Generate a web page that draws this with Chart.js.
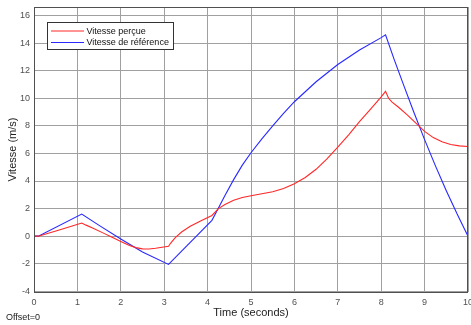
<!DOCTYPE html>
<html>
<head>
<meta charset="utf-8">
<script src="https://cdn.jsdelivr.net/npm/chart.js@4/dist/chart.umd.min.js"></script>
<style>
html,body{margin:0;padding:0;background:#fff;}
canvas{display:block;}
</style>
</head>
<body>
<canvas id="c" width="471" height="325"></canvas>
<script>
// ---- Data ----
const seriesLabels = ["Vitesse perçue", "Vitesse de référence"];
const timePercue = [0, 0.1, 0.6, 1.1, 1.2, 1.35, 1.6, 1.8, 2.0, 2.2, 2.35, 2.5, 2.65, 2.8, 2.95, 3.1, 3.15, 3.25, 3.4, 3.6, 3.85, 4.1, 4.25, 4.4, 4.6, 4.8, 5.0, 5.25, 5.5, 5.75, 6.0, 6.25, 6.5, 6.75, 7.0, 7.25, 7.5, 7.75, 8.0, 8.1, 8.17, 8.25, 8.4, 8.6, 8.8, 9.0, 9.2, 9.4, 9.6, 9.8, 10.0];
const vitessePercue = [0, 0, 0.47, 0.95, 0.8, 0.6, 0.22, -0.08, -0.38, -0.68, -0.83, -0.92, -0.93, -0.88, -0.8, -0.73, -0.5, -0.12, 0.3, 0.72, 1.12, 1.5, 2.0, 2.3, 2.6, 2.8, 2.93, 3.07, 3.22, 3.45, 3.8, 4.25, 4.85, 5.6, 6.45, 7.35, 8.3, 9.2, 10.1, 10.5, 10.0, 9.72, 9.35, 8.8, 8.2, 7.6, 7.15, 6.85, 6.65, 6.55, 6.5];
const timeReference = [0, 0.1, 1.1, 1.5, 2.0, 2.5, 3.1, 4.1, 4.25, 4.4, 4.6, 4.8, 5.0, 5.25, 5.5, 5.75, 6.0, 6.5, 7.0, 7.5, 8.0, 8.1, 8.3, 8.5, 8.75, 9.0, 9.25, 9.5, 9.75, 10.0];
const vitesseReference = [0, 0, 1.6, 0.78, -0.2, -1.15, -2.05, 1.15, 2.05, 2.95, 4.1, 5.15, 6.05, 7.05, 8.0, 8.9, 9.75, 11.2, 12.45, 13.5, 14.4, 14.6, 12.8, 11.1, 9.0, 7.0, 5.1, 3.3, 1.6, 0];
const xTicks = [0, 1, 2, 3, 4, 5, 6, 7, 8, 9, 10];
const yTicks = [-4, -2, 0, 2, 4, 6, 8, 10, 12, 14, 16];

const toPts = (xs, ys) => xs.map((x, i) => ({x: x, y: ys[i]}));
const FONT = "'Liberation Sans', Arial, Helvetica, sans-serif";

const boxLegend = {
  id: 'boxLegend',
  afterDraw(chart) {
    const ctx = chart.ctx;
    const a = chart.chartArea;
    ctx.save();
    // axes box
    ctx.strokeStyle = '#505050';
    ctx.lineWidth = 1;
    ctx.strokeRect(Math.round(a.left) + 0.5, Math.round(a.top) + 0.5, Math.round(a.right - a.left) - 1, Math.round(a.bottom - a.top));
    // legend
    const lx = 47.5, ly = 22.5, lw = 126, lh = 27;
    ctx.fillStyle = '#ffffff';
    ctx.fillRect(lx, ly, lw, lh);
    ctx.strokeStyle = '#333333';
    ctx.strokeRect(lx, ly, lw, lh);
    ctx.font = '9px ' + FONT;
    ctx.textBaseline = 'middle';
    chart.data.datasets.forEach((ds, i) => {
      const y = 31 + i * 11.5;
      ctx.strokeStyle = ds.borderColor;
      ctx.lineWidth = 1;
      ctx.beginPath();
      ctx.moveTo(51, y);
      ctx.lineTo(84, y);
      ctx.stroke();
      ctx.fillStyle = '#111';
      ctx.fillText(ds.label, 86.5, y + 0.5);
    });
    // offset text
    ctx.fillStyle = '#222';
    ctx.font = '9px ' + FONT;
    ctx.fillText('Offset=0', 6, 318);
    ctx.restore();
  }
};

new Chart(document.getElementById('c'), {
  type: 'line',
  data: {
    datasets: [
      {label: seriesLabels[0], data: toPts(timePercue, vitessePercue), borderColor: 'rgb(255,40,40)', borderWidth: 1.1, pointRadius: 0, tension: 0, fill: false},
      {label: seriesLabels[1], data: toPts(timeReference, vitesseReference), borderColor: 'rgb(40,40,255)', borderWidth: 1.1, pointRadius: 0, tension: 0, fill: false}
    ]
  },
  options: {
    responsive: false,
    animation: false,
    layout: {padding: {top: 7, right: 3, left: 0, bottom: 0}},
    plugins: {legend: {display: false}, tooltip: {enabled: false}},
    scales: {
      x: {
        type: 'linear', min: 0, max: 10,
        afterBuildTicks: s => { s.ticks = xTicks.map(v => ({value: v})); },
        afterFit: s => { s.height = 33; s.paddingLeft = 0; s.paddingRight = 0; },
        grid: {color: '#a0a0a0', drawTicks: false},
        border: {display: false},
        ticks: {font: {size: 9, family: FONT}, color: '#505050', padding: 5, maxRotation: 0},
        title: {display: true, text: 'Time (seconds)', font: {size: 11, family: FONT}, color: '#222', padding: {top: 0, bottom: 5}}
      },
      y: {
        type: 'linear', min: -4.05, max: 16.62,
        afterBuildTicks: s => { s.ticks = yTicks.map(v => ({value: v})); },
        afterFit: s => { s.width = 34; s.paddingTop = 0; s.paddingBottom = 0; },
        grid: {color: '#a0a0a0', drawTicks: false},
        border: {display: false},
        ticks: {font: {size: 9, family: FONT}, color: '#505050', padding: 4},
        title: {display: true, text: 'Vitesse (m/s)', font: {size: 11, family: FONT}, color: '#222', padding: {top: 6, bottom: 0}}
      }
    }
  },
  plugins: [boxLegend]
});
</script>
</body>
</html>
